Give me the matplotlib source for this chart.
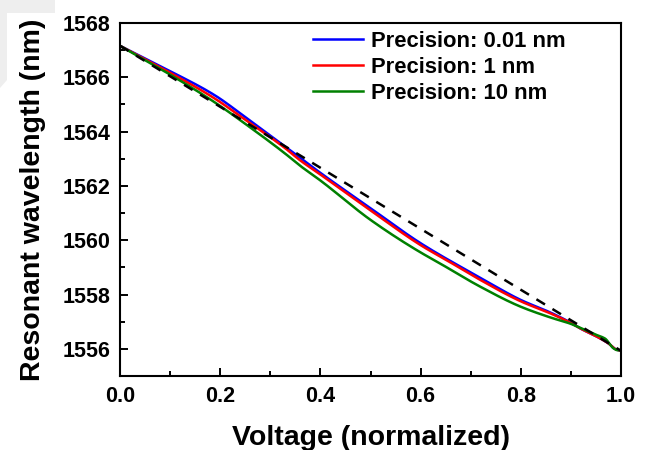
import numpy as np
import matplotlib.pyplot as plt
from matplotlib.patches import Polygon
from matplotlib.ticker import MultipleLocator

plt.rcParams['font.family'] = ['Liberation Sans', 'DejaVu Sans']
plt.rcParams['font.weight'] = 'bold'

# values
x_red = [0.0, 0.089, 0.189, 0.249, 0.329, 0.359, 0.4, 0.5, 0.6, 0.658, 0.718, 0.8, 0.86, 0.9,
         0.918, 0.957, 0.975, 0.99, 1.0]
y_red = [1567.16, 1566.28, 1565.22, 1564.45, 1563.4, 1562.95, 1562.42, 1561.1, 1559.82, 1559.2,
         1558.55, 1557.75, 1557.3, 1556.95, 1556.76, 1556.4, 1556.2, 1555.98, 1555.93]
x_blue = [0.0, 0.089, 0.189, 0.249, 0.329, 0.4, 0.5, 0.6, 0.718, 0.8, 0.86, 0.9, 0.918, 0.957,
          0.975, 0.99, 1.0]
y_blue = [1567.16, 1566.33, 1565.34, 1564.55, 1563.46, 1562.48, 1561.18, 1559.89, 1558.63, 1557.8,
          1557.33, 1556.96, 1556.76, 1556.4, 1556.2, 1555.98, 1555.93]
x_green = [0.0, 0.089, 0.189, 0.249, 0.329, 0.359, 0.4, 0.5, 0.6, 0.628, 0.718, 0.8, 0.86, 0.9,
           0.918, 0.95, 0.968, 0.985, 0.993, 1.0]
y_green = [1567.16, 1566.22, 1565.08, 1564.3, 1563.2, 1562.75, 1562.2, 1560.75, 1559.55, 1559.26,
           1558.3, 1557.55, 1557.15, 1556.92, 1556.78, 1556.52, 1556.38, 1556.02, 1555.95, 1555.95]
x_fit = [0.0, 1.0]
y_fit = [1567.16, 1555.93]

labels = ['Precision: 0.01 nm', 'Precision: 1 nm', 'Precision: 10 nm']


def smooth(xs, ys, n=400):
    # monotone cubic (Fritsch-Carlson) through the read points
    xs = np.asarray(xs, float)
    ys = np.asarray(ys, float)
    if len(xs) < 3:
        return xs, ys
    h = np.diff(xs)
    s = np.diff(ys) / h
    d = np.zeros_like(ys)
    d[0], d[-1] = s[0], s[-1]
    for i in range(1, len(xs) - 1):
        if s[i - 1] * s[i] > 0:
            w1 = 2 * h[i] + h[i - 1]
            w2 = h[i] + 2 * h[i - 1]
            d[i] = (w1 + w2) / (w1 / s[i - 1] + w2 / s[i])
    xx = np.linspace(xs[0], xs[-1], n)
    idx = np.clip(np.searchsorted(xs, xx, side='right') - 1, 0, len(xs) - 2)
    t = (xx - xs[idx]) / h[idx]
    yy = ((2 * t**3 - 3 * t**2 + 1) * ys[idx] + (t**3 - 2 * t**2 + t) * h[idx] * d[idx]
          + (-2 * t**3 + 3 * t**2) * ys[idx + 1] + (t**3 - t**2) * h[idx] * d[idx + 1])
    return xx, yy


fig = plt.figure(figsize=(6.48, 4.5), dpi=100)
fig.patches.append(Polygon([[0, 1], [55 / 648, 1], [55 / 648, 1 - 13 / 450], [7 / 648, 1 - 13 / 450],
                            [7 / 648, 1 - 80 / 450], [0, 1 - 88 / 450]],
                           closed=True, transform=fig.transFigure, facecolor='#eeeeee',
                           edgecolor='none', zorder=0))
ax = fig.add_axes([120 / 648, 74 / 450, 501 / 648, 353 / 450])

ax.plot(*smooth(x_blue, y_blue), color='#0000ff', lw=1.8, label=labels[0])
ax.plot(*smooth(x_red, y_red), color='#ff0000', lw=1.8, label=labels[1])
ax.plot(*smooth(x_green, y_green), color='#008000', lw=1.8, label=labels[2])
ax.plot(*smooth(x_fit, y_fit), color='black', lw=1.8, ls=(0, (4, 3.5)), zorder=3)

ax.set_xlim(0, 1)
ax.set_ylim(1555, 1568)
ax.set_yticks([1556, 1558, 1560, 1562, 1564, 1566, 1568])
ax.xaxis.set_major_locator(MultipleLocator(0.2))
ax.xaxis.set_minor_locator(MultipleLocator(0.1))
ax.yaxis.set_minor_locator(MultipleLocator(1))
ax.tick_params(which='both', direction='in', width=1.4, labelsize=15.5)
ax.tick_params(which='major', length=6, pad=7)
ax.tick_params(which='minor', length=3.5)
for s in ax.spines.values():
    s.set_linewidth(1.5)

ax.set_xlabel('Voltage (normalized)', fontsize=20.5, fontweight='bold', labelpad=13)
ax.set_ylabel('Resonant wavelength (nm)', fontsize=20.5, fontweight='bold', labelpad=12)

ax.legend(loc='upper left', frameon=False, fontsize=15.8, handlelength=2.3,
          handletextpad=0.33, labelspacing=0.22, borderaxespad=0.0, borderpad=0.0,
          bbox_to_anchor=((313 - 120) / 501, 1 - 8 / 353))

fig.savefig('out.png', dpi=100)
